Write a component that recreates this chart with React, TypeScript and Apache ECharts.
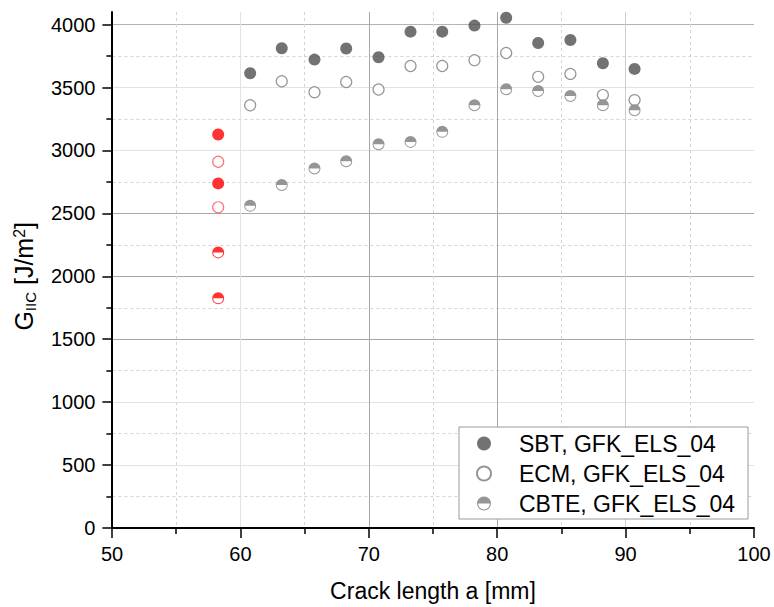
import React, { useEffect, useRef } from "react";
import * as echarts from "echarts";

const FONT = "'Liberation Sans', Arial, sans-serif";

// Crack length a [mm]
const crackLength = [60.76, 63.22, 65.77, 68.24, 70.76, 73.25, 75.72, 78.23, 80.7, 83.19, 85.7, 88.23, 90.7];
const sbtValues = [3613, 3812, 3722, 3810, 3740, 3944, 3944, 3992, 4054, 3854, 3878, 3693, 3648];
const ecmValues = [3359, 3550, 3463, 3544, 3484, 3671, 3671, 3717, 3774, 3585, 3608, 3440, 3400];
const cbteValues = [2560, 2725, 2857, 2915, 3050, 3068, 3148, 3359, 3486, 3473, 3433, 3359, 3320];

// initial (red) points
const initX = [58.27, 58.27];
const sbtInit = [3127, 2738];
const ecmInit = [2910, 2548];
const cbteInit = [2190, 1825];

const seriesNames = ["SBT, GFK_ELS_04", "ECM, GFK_ELS_04", "CBTE, GFK_ELS_04"];
const xTicks = { min: 50, max: 100, interval: 10 };
const yTicks = { min: 0, max: 4000, interval: 500, top: 4100 };

const HALF =
  "path://M0 50 A50 50 0 1 1 100 50 A50 50 0 1 1 0 50 Z M8 50 A42 42 0 1 0 92 50 A42 42 0 1 0 8 50 Z M0 50 A50 50 0 0 1 100 50 Z";

const pairs = (xs: number[], ys: number[]) => xs.map((x, i) => [x, ys[i]]);

export default function App() {
  const ref = useRef<HTMLDivElement>(null);
  useEffect(() => {
    if (!ref.current) return;
    const chart = echarts.init(ref.current, null, { renderer: "svg" });
    const gridTop = 12;
    const gridBottom = 79;
    const plotH = 607 - gridTop - gridBottom;
    const top1 = gridTop + (plotH * (yTicks.top - yTicks.max)) / yTicks.top;
    const S = 12;
    const option: any = {
      animation: false,
      backgroundColor: "#fff",
      textStyle: { fontFamily: FONT },
      grid: [
        { left: 112, right: 20, top: gridTop, bottom: gridBottom },
        { left: 112, right: 20, top: top1, bottom: gridBottom },
      ],
      legend: {
        orient: "vertical",
        left: 459,
        top: 427,
        itemWidth: 24,
        itemHeight: 14,
        itemGap: 7,
        padding: [5, 13, 4, 17],
        borderColor: "#9a9a9a",
        borderWidth: 1,
        borderRadius: 0,
        backgroundColor: "#fff",
        textStyle: { fontSize: 23, fontFamily: FONT, color: "#000", padding: [0, 0, 0, 18] },
        data: seriesNames,
      },
      xAxis: [
        {
          gridIndex: 0,
          type: "value",
          min: xTicks.min,
          max: xTicks.max,
          interval: xTicks.interval,
          name: "Crack length a [mm]",
          nameLocation: "middle",
          nameGap: 51,
          nameTextStyle: { fontSize: 23, fontFamily: FONT, color: "#000" },
          axisLine: { show: true, onZero: false, lineStyle: { color: "#000", width: 2 } },
          axisTick: { show: true, inside: false, length: 10, lineStyle: { color: "#000", width: 1.5 } },
          minorTick: { show: true, splitNumber: 2, length: 6, lineStyle: { color: "#000", width: 1.5 } },
          axisLabel: {
            fontSize: 20,
            fontFamily: FONT,
            color: "#000",
            margin: 16,
            formatter: (v: number) => String(v),
          },
          splitLine: {
            show: true,
            lineStyle: {
              width: 1,
              color: ["rgba(0,0,0,0)", "#e3e3e3", "#a8a8a8", "#a8a8a8", "#cdcdcd", "rgba(0,0,0,0)"],
            },
          },
          minorSplitLine: { show: true, lineStyle: { color: "#d4d4d4", width: 1, type: [3, 3] } },
        },
        { gridIndex: 1, type: "value", min: xTicks.min, max: xTicks.max, show: false },
      ],
      yAxis: [
        {
          gridIndex: 0,
          type: "value",
          min: yTicks.min,
          max: yTicks.top,
          axisLine: { show: true, onZero: false, lineStyle: { color: "#000", width: 2 } },
          axisTick: { show: false },
          axisLabel: { show: false },
          splitLine: { show: false },
        },
        {
          gridIndex: 1,
          type: "value",
          min: yTicks.min,
          max: yTicks.max,
          interval: yTicks.interval,
          name: "{b|G}{s|IIC}{b| [J/m}{p|2}{b|]}",
          nameLocation: "middle",
          nameGap: 60,
          nameRotate: 90,
          nameTextStyle: {
            fontFamily: FONT,
            color: "#000",
            rich: {
              b: { fontSize: 25, fontFamily: FONT, color: "#000", lineHeight: 32, verticalAlign: "middle" },
              s: { fontSize: 15, fontFamily: FONT, color: "#000", lineHeight: 32, verticalAlign: "bottom", padding: [0, 0, 2, 0] },
              p: { fontSize: 16, fontFamily: FONT, color: "#000", lineHeight: 32, verticalAlign: "top", padding: [3, 0, 0, 0] },
            },
          },
          axisLine: { show: false },
          axisTick: { show: true, inside: false, length: 10, lineStyle: { color: "#000", width: 1.5 } },
          minorTick: { show: true, splitNumber: 2, length: 6, lineStyle: { color: "#000", width: 1.5 } },
          axisLabel: {
            fontSize: 20,
            fontFamily: FONT,
            color: "#000",
            margin: 17,
            formatter: (v: number) => String(v),
          },
          splitLine: {
            show: true,
            lineStyle: {
              width: 1,
              color: [
                "rgba(0,0,0,0)",
                "#e3e3e3",
                "#e3e3e3",
                "#a8a8a8",
                "#a8a8a8",
                "#a8a8a8",
                "#e3e3e3",
                "#e3e3e3",
                "#b4b4b4",
              ],
            },
          },
          minorSplitLine: { show: true, lineStyle: { color: "#d4d4d4", width: 1, type: [3, 3] } },
        },
      ],
      series: [
        {
          name: seriesNames[0],
          type: "scatter",
          symbol: "circle",
          symbolSize: S,
          itemStyle: { color: "#4f4f4f" },
          data: pairs(crackLength, sbtValues),
          z: 3,
        },
        {
          name: seriesNames[1],
          type: "scatter",
          symbol: "circle",
          symbolSize: S - 1,
          itemStyle: { color: "#fff", borderColor: "#7a7a7a", borderWidth: 1.2 },
          data: pairs(crackLength, ecmValues),
          z: 3,
        },
        {
          name: "cbte-bg",
          type: "scatter",
          symbol: "circle",
          symbolSize: S - 1,
          itemStyle: { color: "#fff" },
          data: pairs(crackLength, cbteValues).concat(pairs(initX, cbteInit)),
          z: 3,
          silent: true,
        },
        {
          name: seriesNames[2],
          type: "scatter",
          symbol: HALF,
          symbolKeepAspect: true,
          symbolSize: S,
          itemStyle: { color: "#7a7a7a" },
          data: pairs(crackLength, cbteValues),
          z: 4,
        },
        {
          name: "sbt-init",
          type: "scatter",
          symbol: "circle",
          symbolSize: S,
          itemStyle: { color: "#ff0000" },
          data: pairs(initX, sbtInit),
          z: 3,
        },
        {
          name: "ecm-init",
          type: "scatter",
          symbol: "circle",
          symbolSize: S - 1,
          itemStyle: { color: "#fff", borderColor: "#ff4d4d", borderWidth: 1.2 },
          data: pairs(initX, ecmInit),
          z: 3,
        },
        {
          name: "cbte-init",
          type: "scatter",
          symbol: HALF,
          symbolKeepAspect: true,
          symbolSize: S,
          itemStyle: { color: "#ff0000" },
          data: pairs(initX, cbteInit),
          z: 4,
        },
      ],
    };
    chart.setOption(option);
    return () => chart.dispose();
  }, []);
  return (
    <div
      ref={ref}
      style={{ position: "absolute", left: 0, top: 0, width: 774, height: 607, overflow: "hidden" }}
    />
  );
}
